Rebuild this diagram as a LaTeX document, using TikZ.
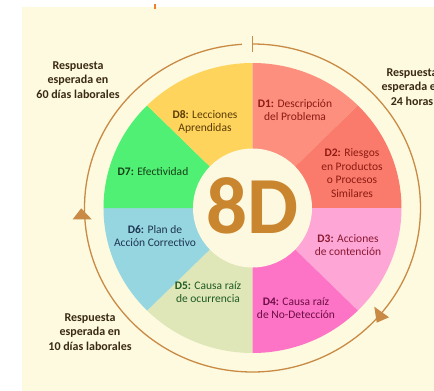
\documentclass[tikz,border=0pt]{standalone}
\usepackage{fontspec}
\setmainfont{Carlito}
\definecolor{bgcream}{HTML}{FDFADF}
\definecolor{ctrcream}{HTML}{FDF9E1}
\definecolor{ringc}{HTML}{C98A45}
\definecolor{eightd}{HTML}{C9862E}
\definecolor{outertxt}{HTML}{3B2A14}
\definecolor{cD1}{HTML}{FC8F7E}
\definecolor{cD2}{HTML}{FA7B6B}
\definecolor{cD3}{HTML}{FEA6D6}
\definecolor{cD4}{HTML}{FD74C7}
\definecolor{cD5}{HTML}{DFE7B8}
\definecolor{cD6}{HTML}{96D6E0}
\definecolor{cD7}{HTML}{4FF073}
\definecolor{cD8}{HTML}{FED45C}
\definecolor{tD1}{HTML}{8E1A12}
\definecolor{tD3}{HTML}{8A1830}
\definecolor{tD4}{HTML}{6E0C45}
\definecolor{tD5}{HTML}{1F5A22}
\definecolor{tD6}{HTML}{1E3550}
\definecolor{tD7}{HTML}{163F18}
\definecolor{tD8}{HTML}{5A3A05}
\definecolor{markc}{HTML}{F08030}
\tikzset{
  lbl/.style={align=center, font=\fontsize{11.5}{13.4}\selectfont, inner sep=0pt},
  outerlbl/.style={align=center, font=\fontsize{12}{14.5}\selectfont\bfseries, text=outertxt, inner sep=0pt},
  ringline/.style={draw=ringc, line width=1.3pt},
  tri/.style={fill=ringc, draw=none},
}
\newcommand{\sector}[3]{%
  \fill[#3] (0,0) -- (#1:149 and 145) arc[start angle=#1, end angle=#2, x radius=149, y radius=145] -- cycle;}
\begin{document}
\begin{tikzpicture}[x=1pt, y=1pt]
  \useasboundingbox (-252.5,-183) rectangle (181.5,208);
  \clip (-252.5,-183) rectangle (181.5,208);
  \fill[white] (-252.5,-183) rectangle (181.5,208);
  \fill[bgcream] (-230.5,-183) rectangle (181.5,201);
  \draw[markc, line width=1.3pt] (-97.5,203.5) -- (-97.5,199);
  % pie sectors
  \sector{90}{45}{cD1}
  \sector{45}{0}{cD2}
  \sector{0}{-45}{cD3}
  \sector{-45}{-90}{cD4}
  \sector{-90}{-135}{cD5}
  \sector{-135}{-180}{cD6}
  \sector{180}{135}{cD7}
  \sector{135}{90}{cD8}
  % centre
  \fill[ctrcream] (0,0) circle[radius=59.5];
  \node[inner sep=0pt, text=eightd, font=\fontsize{81}{81}\selectfont\bfseries] (eightD) at (0,2) {8D};
  % outer ring
  \draw[ringline] (90:168 and 164) arc[start angle=90, end angle=-266.4, x radius=168, y radius=164];
  \draw[ringline] (0,156) -- (0,172);
  \fill[tri] (-179.8,-11.3) -- (-160.8,-11.3) -- (-171.3,-0.3) -- cycle;
  \fill[tri] (121.8,-98.7) -- (136.5,-109.3) -- (124.2,-114.7) -- cycle;
  % sector labels
  \node[lbl, text=tD1] (d1) at (42.5,98) {\textbf{D1:} Descripción\\del Problema};
  \node[lbl, text=tD1] (d2) at (99.5,35) {\textbf{D2:} Riesgos\\en Productos\\o Procesos\\Similares};
  \node[lbl, text=tD3] (d3) at (95.5,-37) {\textbf{D3:} Acciones\\de contención};
  \node[lbl, text=tD4] (d4) at (43.5,-100) {\textbf{D4:} Causa raíz\\de No-Detección};
  \node[lbl, text=tD5] (d5) at (-44.5,-84) {\textbf{D5:} Causa raíz\\de ocurrencia};
  \node[lbl, text=tD6] (d6) at (-97.5,-28) {\textbf{D6:} Plan de\\Acción Correctivo};
  \node[lbl, text=tD7] (d7) at (-99.5,36) {\textbf{D7:} Efectividad};
  \node[lbl, text=tD8] (d8) at (-47.5,86) {\textbf{D8:} Lecciones\\Aprendidas};
  % outer labels
  \node[outerlbl] (r60) at (-174.5,128) {Respuesta\\esperada en\\60 días laborales};
  \node[outerlbl] (r24) at (159.5,121) {Respuesta\\esperada en\\24 horas};
  \node[outerlbl] (r10) at (-162.5,-124) {Respuesta\\esperada en\\10 días laborales};
\end{tikzpicture}
\end{document}
